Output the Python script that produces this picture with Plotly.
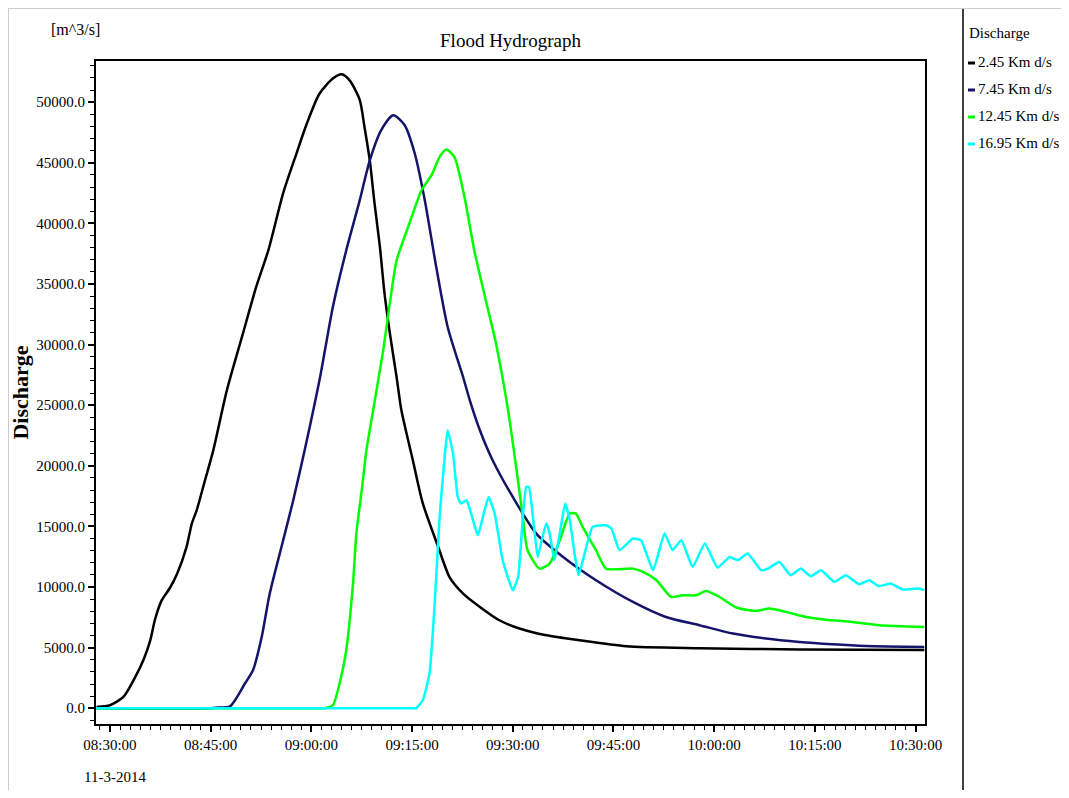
import pandas as pd
import plotly.graph_objects as go

# ---------------- data (minutes after 08:30:00 on 11-3-2014, discharge m^3/s) ----------------
series_names = ["2.45 Km d/s", "7.45 Km d/s", "12.45 Km d/s", "16.95 Km d/s"]
series_colors = ["#000000", "#14146a", "#00ff00", "#00ffff"]

black_min = [-2.0, 0.0, 2.0, 3.7, 5.0, 6.0, 6.7, 7.7, 8.9, 10.0, 11.4, 12.2, 12.9, 14.1, 15.4, 17.4,
             19.8, 21.8, 23.6, 25.8, 27.8, 29.3, 31.2, 33.2, 34.5, 35.7, 37.2, 37.9, 38.7, 39.4,
             40.2, 40.9, 41.7, 42.7, 43.4, 45.1, 46.6, 48.9, 50.6, 52.6, 55.1, 58.0, 61.0, 65.0,
             69.9, 76.9, 87.8, 102.7, 121.3]
black_q = [100, 250, 930, 2500, 4000, 5600, 7300, 8900, 9900, 11100, 13300, 15250, 16300, 18700,
           21300, 26200, 30900, 34800, 37800, 42500, 45800, 48200, 50700, 51950, 52300, 51800,
           50200, 48000, 45200, 41700, 38100, 34200, 30900, 27300, 24600, 20500, 16900, 13300,
           10800, 9460, 8360, 7260, 6580, 6020, 5610, 5110, 4950, 4850, 4800]

blue_min = [-2.0, 15.0, 16.1, 17.9, 20.1, 21.3, 22.6, 23.8, 25.8, 27.3, 29.0, 31.3, 33.2, 35.2,
            37.2, 38.7, 40.4, 42.2, 43.9, 45.4, 46.9, 48.6, 50.3, 52.6, 53.6, 55.1, 57.0, 60.0,
            63.5, 67.5, 72.4, 77.9, 82.8, 87.8, 92.8, 97.7, 102.7, 107.6, 112.6, 121.3]
blue_q = [0, 0, 60, 165, 2040, 3130, 5880, 9460, 13860, 17160, 21290, 27330, 33110, 37790, 41900,
          45200, 47700, 48930, 48100, 45770, 41900, 36400, 31460, 27330, 25410, 22940, 20460,
          17430, 14410, 12480, 10560, 8770, 7530, 6850, 6160, 5750, 5470, 5280, 5140, 5060]

green_min = [-2.0, 31.0, 32.0, 33.2, 34.2, 35.2, 36.2, 36.7, 37.5, 38.2, 39.2, 40.7, 41.4, 42.7,
             44.6, 46.4, 47.9, 49.1, 50.1, 51.3, 52.8, 54.3, 56.1, 57.5, 59.3, 60.5, 61.5, 62.2,
             64.0, 65.5, 67.0, 68.5, 69.4, 70.4, 72.4, 73.9, 77.9, 79.4, 81.4, 83.6, 85.3, 87.3,
             88.8, 90.8, 93.3, 96.2, 98.2, 100.7, 103.7, 106.7, 110.6, 114.6, 121.3]
green_q = [0, 0, 0, 250, 2040, 4790, 10290, 14410, 17990, 21290, 24590, 29540, 32290, 36960,
           39990, 42740, 43980, 45490, 46100, 45490, 42190, 37680, 33390, 30090, 24590, 19910,
           15780, 13040, 11520, 11940, 13860, 16060, 16060, 14960, 13040, 11520, 11520, 11250,
           10560, 9180, 9320, 9320, 9680, 9180, 8310, 8030, 8220, 7950, 7530, 7310, 7120, 6850,
           6710]

cyan_min = [-2.1, 44.6, 45.6, 46.6, 47.6, 48.4, 49.1, 49.9, 50.3, 51.1, 51.8, 52.3, 53.1, 53.8,
            54.8, 55.8, 56.4, 57.3, 58.5, 60.0, 60.8, 61.5, 62.0, 62.4, 63.0, 63.7, 64.2, 65.0,
            65.5, 66.2, 67.0, 67.8, 68.5, 69.2, 69.8, 70.7, 71.9, 73.9, 74.7, 75.9, 77.9, 79.1,
            80.9, 82.6, 83.8, 85.1, 86.8, 88.6, 90.5, 92.3, 93.5, 95.0, 97.0, 98.0, 99.7, 101.4,
            102.9, 104.4, 105.9, 107.9, 109.6, 111.6, 113.1, 114.5, 116.3, 118.1, 120.5, 121.3]
cyan_q = [0, 0, 0, 660, 2860, 8910, 15780, 21010, 22940, 21010, 17430, 16890, 17160, 16060,
          14270, 16340, 17430, 16060, 12210, 9740, 10830, 15780, 18260, 18260, 15780, 12480,
          13590, 15240, 14410, 12210, 14410, 16890, 15510, 12760, 10970, 12760, 14960, 15100,
          14830, 13040, 14000, 13860, 11390, 14410, 13040, 13860, 11660, 13590, 11610, 12480,
          12210, 12760, 11390, 11520, 12070, 10970, 11520, 10890, 11390, 10420, 10970, 10230,
          10560, 10070, 10290, 9790, 9880, 9740]

x_tick_labels = ["08:30:00", "08:45:00", "09:00:00", "09:15:00", "09:30:00",
                 "09:45:00", "10:00:00", "10:15:00", "10:30:00"]
date_label = "11-3-2014"
legend_title = "Discharge"
base = pd.Timestamp("2014-03-11 08:30:00")

FONT = "Liberation Serif, Times New Roman, serif"

# page body has an 8px margin: the figure occupies screen px 8..1061 x 8..790
OFF = 8
W, H = 1069 - 2 * OFF, 798 - 2 * OFF
# plot frame in screen pixels
SL, SR, ST, SB = 96, 925, 61, 724
L, R, T, B = SL - OFF, SR - OFF, ST - OFF, SB - OFF


def px_x(p):  # screen px -> paper x
    return (p - OFF - L) / (R - L)


def px_y(p):  # screen px -> paper y
    return (B - (p - OFF)) / (B - T)


def to_time(mins):
    return base + pd.to_timedelta(pd.Series(mins), unit="min")


fig = go.Figure()
all_min = [black_min, blue_min, green_min, cyan_min]
all_q = [black_q, blue_q, green_q, cyan_q]
smooth = [0.7, 0.7, 0.6, 0.4]
for name, color, mins, q, sm in zip(series_names, series_colors, all_min, all_q, smooth):
    fig.add_trace(go.Scatter(
        x=to_time(mins), y=q, mode="lines", name=name,
        line=dict(color=color, width=2.5, shape="spline", smoothing=sm),
    ))

tickvals = [pd.Timestamp(f"2014-03-11 {t}") for t in x_tick_labels]

fig.update_layout(
    width=W, height=H,
    margin=dict(l=L, r=W - R, t=T, b=H - B, pad=0),
    paper_bgcolor="white", plot_bgcolor="white",
    font=dict(family=FONT, size=15, color="black"),
    title=dict(text="Flood Hydrograph", font=dict(family=FONT, size=19, color="black"),
               x=0.5, xref="paper", xanchor="center", y=1 - (40 - OFF) / H, yanchor="middle"),
    showlegend=False,
    xaxis=dict(
        type="date",
        range=[base + pd.Timedelta(minutes=-2.08), base + pd.Timedelta(minutes=121.4)],
        tickmode="array", tickvals=tickvals, ticktext=x_tick_labels,
        ticks="outside", ticklen=6, tickwidth=1.5, tickcolor="black",
        minor=dict(tickmode="linear", tick0=base, dtick=90000, ticks="outside",
                   ticklen=4, tickwidth=1.2, tickcolor="black", showgrid=False),
        showline=True, linecolor="black", linewidth=2, mirror=True,
        showgrid=False, zeroline=False, automargin=False,
        tickfont=dict(family=FONT, size=15, color="black"),
    ),
    yaxis=dict(
        range=[-1300, 53400],
        tickmode="linear", tick0=0, dtick=5000, tickformat=".1f",
        ticks="outside", ticklen=6, tickwidth=1.5, tickcolor="black",
        minor=dict(tickmode="linear", tick0=0, dtick=1000, ticks="outside",
                   ticklen=4, tickwidth=1.2, tickcolor="black", showgrid=False),
        showline=True, linecolor="black", linewidth=2, mirror=True,
        showgrid=False, zeroline=False, automargin=False,
        tickfont=dict(family=FONT, size=15, color="black"),
        title=dict(text="<b>Discharge</b>", font=dict(family=FONT, size=22, color="black"),
                   standoff=4),
    ),
)

fig.add_annotation(text="[m^3/s]", xref="paper", yref="paper",
                   x=px_x(75), y=px_y(30), xanchor="center", yanchor="middle",
                   showarrow=False, font=dict(family=FONT, size=16, color="black"))
fig.add_annotation(text=date_label, xref="x", yref="paper",
                   x=base, y=px_y(777), xanchor="center", yanchor="middle", xshift=5,
                   showarrow=False, font=dict(family=FONT, size=15, color="black"))

# separator between plot and legend, and light outer frame
fig.add_shape(type="line", xref="paper", yref="paper",
              x0=px_x(963), x1=px_x(963), y0=px_y(800), y1=px_y(OFF),
              line=dict(color="black", width=1.5))
fig.add_shape(type="line", xref="paper", yref="paper",
              x0=px_x(OFF), x1=px_x(1061), y0=px_y(OFF + 0.5), y1=px_y(OFF + 0.5),
              line=dict(color="#cccccc", width=1))
fig.add_shape(type="line", xref="paper", yref="paper",
              x0=px_x(OFF + 0.5), x1=px_x(OFF + 0.5), y0=px_y(OFF), y1=px_y(800),
              line=dict(color="#cccccc", width=1))

# legend (drawn beside the separator, as in the original)
fig.add_annotation(text=legend_title, xref="paper", yref="paper",
                   x=px_x(967), y=px_y(33), xanchor="left", yanchor="middle",
                   showarrow=False, font=dict(family=FONT, size=15, color="black"))
legend_rows = [62, 89, 116, 143]
for name, color, row in zip(series_names, series_colors, legend_rows):
    fig.add_shape(type="line", xref="paper", yref="paper",
                  x0=px_x(968), x1=px_x(975), y0=px_y(row + 1), y1=px_y(row + 1),
                  line=dict(color=color, width=3))
    fig.add_annotation(text=name, xref="paper", yref="paper",
                       x=px_x(976), y=px_y(row), xanchor="left", yanchor="middle",
                       showarrow=False, font=dict(family=FONT, size=15, color="black"))

fig.write_html("out.html")
